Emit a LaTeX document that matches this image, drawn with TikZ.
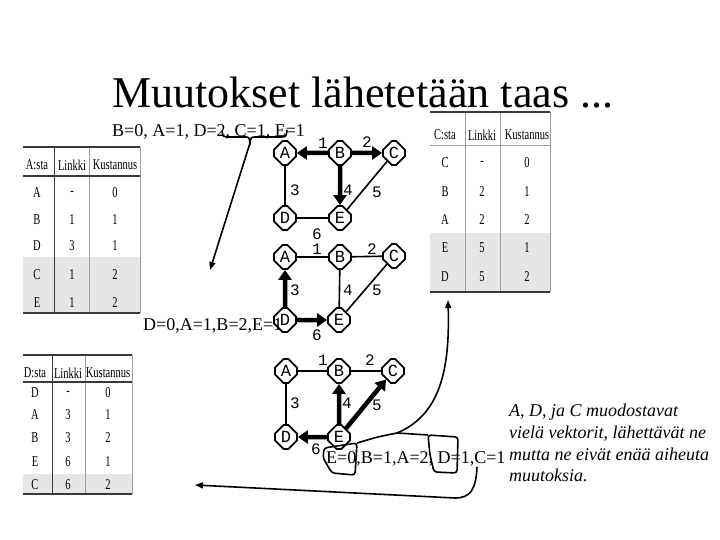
\documentclass[tikz,border=0pt]{standalone}
\usepackage{fontspec}
\setmainfont{Liberation Serif}
\newfontfamily\serf{Liberation Serif}
\newfontfamily\monof{Liberation Mono}
\newfontfamily\condf[FakeStretch=0.7]{Liberation Serif}
\usetikzlibrary{shapes.misc,arrows.meta}
\definecolor{tdark}{HTML}{3A3A3A}
\definecolor{tgray}{HTML}{A0A0A0}
\definecolor{tshade}{HTML}{E6E6E6}
\begin{document}
\begin{tikzpicture}[x=1pt,y=-1pt,
  oct/.style={draw, line width=1.8pt, fill=white, chamfered rectangle,
    chamfered rectangle xsep=6pt, minimum width=22pt, minimum height=24pt,
    inner sep=0pt, font=\monof\fontsize{17}{17}\selectfont},
  ln/.style={line width=1.6pt},
  barrow/.style={line width=4.5pt, -{Triangle[length=10pt,width=13pt]}},
  farrow/.style={line width=1.6pt, -{Triangle[length=8pt,width=6pt]}},
  lbl/.style={inner sep=0pt, font=\monof\fontsize{16}{16}\selectfont},
  tc/.style={inner sep=0pt, font=\condf\fontsize{15}{15}\selectfont},
  txt/.style={inner sep=0pt, anchor=base west, font=\serf\fontsize{18}{18}\selectfont},
  itx/.style={inner sep=0pt, anchor=base west, font=\serf\itshape\fontsize{18}{18}\selectfont},
  topline/.style={draw=tdark, line width=2.4pt},
  midline/.style={draw=tdark, line width=1.2pt},
  grline/.style={draw=tgray, line width=1pt}
]
\fill[white] (0,0) rectangle (720,540);
\useasboundingbox (0,0) rectangle (720,540);

% title and texts
\node[inner sep=0pt, anchor=base west, font=\serf\fontsize{44}{44}\selectfont] (title) at (112,108) {Muutokset lähetetään taas ...};
\node[txt] (vecB) at (112,137) {B=0, A=1, D=2, C=1, E=1};
\node[txt] (it1) at (509,416) {\itshape A, D, ja C muodostavat};
\node[txt] (it2) at (509,438) {\itshape vielä vektorit, lähettävät ne};
\node[txt] (it3) at (509,460) {\itshape mutta ne eivät enää aiheuta};
\node[txt] (it4) at (509,481) {\itshape muutoksia.};

% ---------- table A ----------
\fill[tshade] (23,257) rectangle (140,313);
\draw[grline] (140,147) -- (140,313);
\draw[grline] (89.3,147) -- (89.3,313);
\draw[midline] (54.3,147) -- (54.3,313);
\draw[midline] (23,176) -- (140,176);
\draw[topline] (23,147) -- (140,147);
\draw[topline] (23,313) -- (140,313);
\node[tc] (ah1) at (37,165) {A:sta};
\node[tc] (ah2) at (72,165) {Linkki};
\node[tc] (ah3) at (115,165) {Kustannus};
\foreach \i/\y/\p/\q/\r in {1/193/A/-/0, 2/220/B/1/1, 3/246/D/3/1, 4/275/C/1/2, 5/303/E/1/2}{
  \node[tc] (aa\i) at (37,\y) {\p};
  \node[tc] (ab\i) at (72,\y) {\q};
  \node[tc] (ac\i) at (115,\y) {\r};
}

% ---------- table D ----------
\fill[tshade] (23,474) rectangle (132,494);
\draw[grline] (132,355) -- (132,494);
\draw[grline] (85,355) -- (85,494);
\draw[midline] (52.3,355) -- (52.3,494);
\draw[midline] (23,382) -- (132,382);
\draw[topline] (23,355) -- (132,355);
\draw[topline] (23,494) -- (132,494);
\node[tc] (dh1) at (35,373) {D:sta};
\node[tc] (dh2) at (68,373) {Linkki};
\node[tc] (dh3) at (108,373) {Kustannus};
\foreach \i/\y/\p/\q/\r in {1/393/D/-/0, 2/415/A/3/1, 3/438/B/3/2, 4/462/E/6/1, 5/485/C/6/2}{
  \node[tc] (da\i) at (35,\y) {\p};
  \node[tc] (db\i) at (68,\y) {\q};
  \node[tc] (dc\i) at (108,\y) {\r};
}

% ---------- table C ----------
\fill[tshade] (430,233) rectangle (550,292);
\draw[grline] (550,112) -- (550,292);
\draw[grline] (465,112) -- (465,292);
\draw[grline] (500,112) -- (500,292);
\draw[grline] (430,146) -- (550,146);
\draw[topline] (430,112) -- (550,112);
\draw[topline] (430,292) -- (550,292);
\node[tc] (ch1) at (445,135) {C:sta};
\node[tc] (ch2) at (482,135) {Linkki};
\node[tc] (ch3) at (527,135) {Kustannus};
\foreach \i/\y/\p/\q/\r in {1/163/C/-/0, 2/192/B/2/1, 3/220/A/2/2, 4/248/E/5/1, 5/277/D/5/2}{
  \node[tc] (ca\i) at (445,\y) {\p};
  \node[tc] (cb\i) at (482,\y) {\q};
  \node[tc] (cc\i) at (527,\y) {\r};
}

% ---------- graph 1 ----------
\node[oct] (A1) at (285,153) {A};
\node[oct] (B1) at (340,153) {B};
\node[oct] (C1) at (394,153) {C};
\node[oct] (D1) at (285,218) {D};
\node[oct] (E1) at (340,218) {E};
\draw[barrow] (B1) -- (A1);
\draw[barrow] (B1) -- (C1);
\draw[ln] (A1) -- (D1);
\draw[barrow] (B1) -- (E1);
\draw[ln] (C1) -- (E1);
\draw[ln] (D1) -- (E1);
\node[lbl] (l11) at (323,143) {1};
\node[lbl] (l12) at (367,142) {2};
\node[lbl] (l13) at (295,190) {3};
\node[lbl] (l14) at (348,190) {4};
\node[lbl] (l15) at (377,192) {5};
\node[lbl] (l16) at (317,234) {6};

% ---------- graph 2 ----------
\node[oct] (A2) at (285,257) {A};
\node[oct] (B2) at (340,257) {B};
\node[oct] (C2) at (394,256) {C};
\node[oct] (D2) at (285,320) {D};
\node[oct] (E2) at (339,320) {E};
\draw[ln] (A2) -- (B2);
\draw[ln] (B2) -- (C2);
\draw[barrow] (D2) -- (A2);
\draw[ln] (B2) -- (E2);
\draw[ln] (C2) -- (E2);
\draw[barrow] (D2) -- (E2);
\node[lbl] (l21) at (317,249) {1};
\node[lbl] (l22) at (372,249) {2};
\node[lbl] (l23) at (295,290) {3};
\node[lbl] (l24) at (348,290) {4};
\node[lbl] (l25) at (377,290) {5};
\node[lbl] (l26) at (317,335) {6};
\node[txt] (vecD) at (143,330) {D=0,A=1,B=2,E=1};

% ---------- graph 3 ----------
\node[oct] (A3) at (286,371) {A};
\node[oct] (B3) at (339,371) {B};
\node[oct] (C3) at (393,371) {C};
\node[oct] (D3) at (286,437) {D};
\node[oct] (E3) at (339,437) {E};
\draw[ln] (A3) -- (B3);
\draw[ln] (B3) -- (C3);
\draw[ln] (A3) -- (D3);
\draw[barrow] (E3) -- (B3);
\draw[barrow] (E3) -- (C3);
\draw[barrow] (E3) -- (D3);
\node[lbl] (l31) at (323,360) {1};
\node[lbl] (l32) at (370,360) {2};
\node[lbl] (l33) at (295,403) {3};
\node[lbl] (l34) at (347,403) {4};
\node[lbl] (l35) at (377,405) {5};
\node[lbl] (l36) at (316,449) {6};

\node[txt] (vecE) at (326,463) {E=0,B=1,A=2, D=1,C=1};

% ---------- brace and arrow ----------
\coordinate (brTip) at (250,143);
\coordinate (brArr) at (210,270);
\draw[ln] (222,131) .. controls (223,137) .. (230,137) -- (245,137) .. controls (249,137) .. (brTip)
  .. controls (251,137) .. (256,137) -- (281,137) .. controls (286,137) .. (287,130);
\draw[farrow] (brTip) -- (brArr);

% ---------- loops and curves ----------
\coordinate (lp1) at (357,443);
\coordinate (jn) at (397,433);
\coordinate (lp2) at (428,435);
\coordinate (cTab) at (448,300);
\coordinate (bStart) at (477,467);
\coordinate (bCorner) at (455,498);
\coordinate (dTab) at (195,485);
\draw[ln, rounded corners=3pt] (lp1) -- (355,475) -- (332,473) -- (323,458) -- (324,448) -- cycle;
\draw[ln] (lp1) .. controls (377,437) .. (jn) -- (lp2);
\draw[ln, rounded corners=3pt] (lp2) -- (458,437) -- (457,473) -- (434,472) -- (430,455) -- cycle;
\draw[farrow] (jn) .. controls (440,415) and (450,370) .. (cTab);
\draw[farrow] (bStart) .. controls (476,490) and (470,498) .. (bCorner) -- (dTab);
\end{tikzpicture}
\end{document}
